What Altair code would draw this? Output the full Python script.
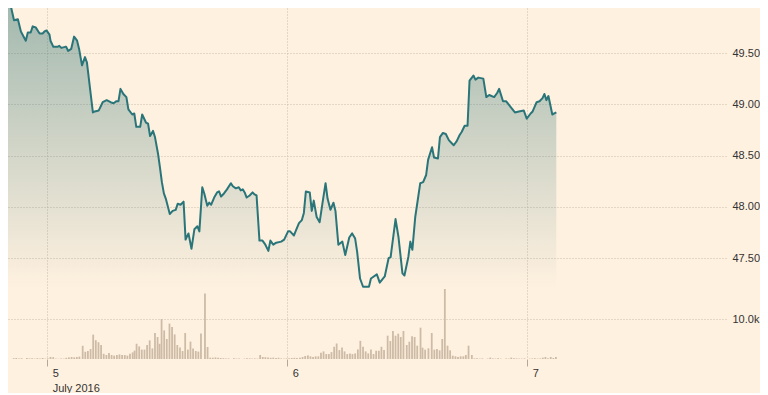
import altair as alt
import pandas as pd

# ---- data (hours relative to 5 July 2016 00:00) ----
price_hours = [
    -4.04, -3.62, -3.32, -2.93, -2.63, -2.14, -1.94, -1.65, -1.45, -1.15,
    -0.76, -0.46, -0.27, -0.07, 0.23, 0.33, 0.62, 1.02, 1.21, 1.41,
    1.80, 1.90, 2.10, 2.40, 2.69, 2.99, 3.19, 3.48, 3.78, 3.97,
    4.57, 4.76, 5.16, 5.55, 5.95, 6.34, 6.64, 6.93, 7.13, 7.33,
    7.62, 7.92, 8.12, 8.51, 8.71, 8.91, 9.30, 9.50, 9.89, 10.09,
    10.29, 10.58, 10.78, 11.08, 11.27, 11.47, 11.67, 11.86, 12.26, 12.55,
    12.85, 13.05, 13.34, 13.64, 13.84, 14.13, 14.43, 14.72, 15.02, 15.22,
    15.51, 15.71, 16.01, 16.20, 16.40, 16.70, 16.99, 17.19, 17.39, 17.68,
    17.98, 18.37, 18.57, 18.87, 19.16, 19.36, 19.56, 19.75, 19.95, 20.25,
    20.54, 20.74, 20.94, 21.23, 21.53, 21.82, 22.12, 22.32, 22.61, 22.91,
    23.40, 23.70, 24.09, 24.29, 24.68, 24.88, 25.18, 25.47, 25.67, 25.87,
    26.26, 26.46, 26.66, 26.95, 27.25, 27.54, 27.84, 28.04, 28.33, 28.63,
    28.83, 29.12, 29.52, 29.81, 30.21, 30.50, 30.80, 31.00, 31.29, 31.59,
    32.18, 32.38, 32.97, 33.26, 33.76, 34.15, 34.35, 34.84, 35.14, 35.53,
    35.73, 36.12, 36.32, 36.52, 36.81, 37.31, 37.60, 37.90, 38.10, 38.49,
    38.69, 39.08, 39.28, 39.58, 39.87, 40.17, 40.46, 40.66, 40.96, 41.25,
    41.45, 41.75, 42.04, 42.24, 42.63, 42.83, 43.12, 43.62, 43.92, 44.21,
    44.70, 45.00, 45.20, 45.59, 45.89, 46.38, 46.78, 47.17, 47.66, 47.96,
    48.35, 48.55, 48.95, 49.24, 49.54, 49.73, 49.93, 50.13, 50.52, 50.72,
    50.92,
]
price_values = [
    49.98, 49.95, 49.82, 49.83, 49.71, 49.62, 49.70, 49.70, 49.76, 49.75,
    49.69, 49.69, 49.71, 49.72, 49.68, 49.62, 49.56, 49.56, 49.57, 49.55,
    49.56, 49.56, 49.52, 49.54, 49.66, 49.62, 49.54, 49.38, 49.46, 49.41,
    48.92, 48.93, 48.94, 49.02, 49.04, 49.02, 49.01, 49.03, 49.03, 49.15,
    49.10, 49.07, 48.95, 48.90, 48.91, 48.78, 48.78, 48.90, 48.82, 48.81,
    48.69, 48.74, 48.68, 48.52, 48.39, 48.24, 48.13, 48.08, 47.93, 47.96,
    47.97, 48.03, 48.02, 48.05, 47.68, 47.74, 47.59, 47.78, 47.81, 47.76,
    48.19, 48.13, 48.01, 48.04, 48.02, 48.09, 48.14, 48.15, 48.10, 48.13,
    48.17, 48.23, 48.20, 48.18, 48.19, 48.16, 48.17, 48.14, 48.09, 48.11,
    48.14, 48.12, 48.11, 47.67, 47.67, 47.63, 47.57, 47.67, 47.63, 47.65,
    47.66, 47.68, 47.76, 47.76, 47.72, 47.77, 47.84, 47.87, 47.94, 48.15,
    48.14, 47.96, 48.06, 47.90, 47.85, 48.04, 48.23, 48.08, 47.97, 48.04,
    47.96, 47.63, 47.66, 47.53, 47.70, 47.74, 47.69, 47.56, 47.30, 47.22,
    47.22, 47.30, 47.34, 47.26, 47.32, 47.50, 47.51, 47.88, 47.70, 47.35,
    47.33, 47.51, 47.66, 47.58, 47.90, 48.23, 48.24, 48.31, 48.46, 48.58,
    48.48, 48.47, 48.68, 48.72, 48.71, 48.65, 48.62, 48.60, 48.64, 48.70,
    48.73, 48.79, 48.79, 49.23, 49.28, 49.24, 49.26, 49.25, 49.07, 49.09,
    49.07, 49.11, 49.15, 49.03, 49.03, 48.97, 48.92, 48.93, 48.94, 48.86,
    48.91, 48.93, 49.02, 49.03, 49.06, 49.10, 49.04, 49.08, 48.90, 48.91,
    48.92,
]

volume_hours = [
    -3.35, -3.09, -2.82, -2.56, -2.30, -2.03, -1.77, -1.51, -1.25, -0.98,
    -0.72, -0.46, -0.19, 0.07, 0.33, 0.60, 0.86, 1.12, 1.38, 1.65,
    1.91, 2.17, 2.44, 2.70, 2.96, 3.22,
    3.55, 3.81, 4.07, 4.34, 4.60, 4.86, 5.13, 5.39, 5.65, 5.92,
    6.18, 6.44, 6.70, 6.97, 7.23, 7.49, 7.76, 8.02, 8.28, 8.55,
    8.74, 8.94, 9.20, 9.46, 9.73, 9.99, 10.25, 10.52, 10.78, 11.04,
    11.24, 11.44, 11.70, 11.96, 12.23, 12.49, 12.75, 13.01, 13.28, 13.54,
    13.80, 14.07, 14.33, 14.59, 14.86, 15.12, 15.38, 15.78, 16.04,
    16.30, 16.56, 16.83, 17.09, 17.35, 17.62, 17.88, 18.14, 18.40, 18.67,
    18.93, 19.19, 19.46, 19.72, 19.98, 20.25, 20.51, 20.77, 21.03, 21.30,
    21.56, 21.82, 22.09, 22.35, 22.61, 22.88, 23.14, 23.40, 23.67, 23.93,
    24.19, 24.46, 24.72, 24.98,
    25.28, 25.54, 25.80, 26.07, 26.33, 26.59, 26.85, 27.12, 27.38, 27.64,
    27.91, 28.17, 28.43, 28.70, 28.95, 29.22, 29.49, 29.74, 30.01, 30.28,
    30.53, 30.80, 31.07, 31.32, 31.59, 31.85, 32.11, 32.38, 32.64, 32.90,
    33.17, 33.43, 33.69, 34.05, 34.32, 34.58, 34.84, 35.11, 35.36, 35.63,
    35.96, 36.22, 36.49, 36.75, 37.01, 37.34, 37.54, 37.80, 38.13, 38.46,
    38.72, 38.98, 39.25, 39.51, 39.77, 40.04, 40.30, 40.56, 40.83, 41.09,
    41.35, 41.62, 41.87, 42.14, 42.47,
    42.73, 42.99, 43.26, 43.52, 43.78, 44.05, 44.31, 44.57, 44.83, 45.10,
    45.36, 45.62, 45.89, 46.15, 46.41, 46.68, 46.94, 47.20, 47.46, 47.73,
    47.99, 48.25, 48.52, 48.78, 49.04, 49.31, 49.57, 49.83, 50.09, 50.36,
    50.62, 50.88,
]
volume_values = [
    200, 250, 150, 200, 0, 250, 150, 200, 100, 200,
    150, 250, 100, 150, 500, 450, 100, 50, 150, 100,
    300, 400, 500, 400, 500, 600,
    3300, 1800, 2000, 2500, 6100, 4700, 4200, 3500, 1300, 1000,
    1500, 1000, 850, 1000, 1150, 1000, 1000, 850, 1300, 1650,
    2100, 3800, 3150, 2350, 2350, 3500, 4650, 2650, 6500, 5500,
    3800, 10000, 7150, 5000, 8850, 8000, 6150, 3500, 2850, 2000,
    6500, 2350, 4350, 2650, 2000, 1850, 6350, 16350, 3000,
    330, 330, 400, 330, 250, 200, 100, 150, 0, 200,
    100, 150, 0, 100, 200, 150, 100, 150, 100, 1000,
    500, 450, 400, 300, 350, 250, 300, 150, 100, 150,
    200, 250, 300, 250,
    330, 500, 750, 900, 660, 500, 660, 660, 1570, 1900,
    1240, 1240, 1730, 3060, 3880, 2230, 2890, 1900, 1240, 1400,
    1240, 1400, 2400, 4540, 3060, 1900, 1400, 2400, 1240, 2070,
    2070, 3060, 2230, 5830, 4500, 7000, 5830, 6330, 5500, 7000,
    3500, 4330, 5670, 5500, 3330, 7830, 2830, 2330, 2670, 6500,
    2330, 2500, 2170, 5000, 17500, 3330, 2170, 830, 670, 500,
    670, 670, 1000, 3330, 1000,
    150, 200, 100, 150, 0, 100, 350, 150, 100, 200,
    100, 0, 150, 100, 350, 200, 150, 100, 100, 150,
    0, 100, 150, 200, 100, 150, 330, 500, 200, 500,
    250, 500,
]

day_ticks = [0, 24, 48]
price_ticks = [47.5, 48.0, 48.5, 49.0, 49.5]
volume_ticks = [10000]

# ---- styling ----
BG = "#fff1e0"
LINE = "#2a7579"
BAR = "#cdbba6"
GRID = "#c9bdac"
TEXT = "#333333"
FONT = "Liberation Sans"

price_df = pd.DataFrame({"h": price_hours, "p": price_values})
vol_df = pd.DataFrame({"h": volume_hours, "v": volume_values})

x_scale = alt.Scale(domain=[-3.42, 67.39], nice=False, zero=False)
x_axis = alt.Axis(
    values=day_ticks,
    labelExpr="datum.value == 0 ? ['5', 'July 2016'] : datum.value == 24 ? '6' : '7'",
    grid=True, gridDash=[1, 2], gridColor=GRID, gridWidth=1,
    domain=False, ticks=True, tickSize=7, tickColor="#b3a898",
    labelAlign="left", labelBaseline="top", labelOffset=5, labelPadding=1,
    labelLineHeight=15, labelFontSize=11, labelColor=TEXT, labelFont=FONT,
    title=None,
)

price_scale = alt.Scale(domain=[46.515, 49.939], nice=False, zero=False)
price_axis = alt.Axis(
    orient="right", values=price_ticks, format=".2f",
    grid=True, gridDash=[1, 2], gridColor=GRID, gridWidth=1,
    domain=False, ticks=False, labelPadding=6,
    labelFontSize=11, labelColor=TEXT, labelFont=FONT, title=None,
)
vol_scale = alt.Scale(domain=[0, 87750], nice=False, zero=True)
vol_axis = alt.Axis(
    orient="right", values=volume_ticks,
    labelExpr="format(datum.value / 1000, '.1f') + 'k'",
    grid=True, gridDash=[1, 2], gridColor=GRID, gridWidth=1,
    domain=False, ticks=False, labelPadding=6,
    labelFontSize=11, labelColor=TEXT, labelFont=FONT, title=None,
)

x_enc = alt.X("h:Q", scale=x_scale, axis=x_axis)

area = alt.Chart(price_df).mark_area(
    clip=True,
    color=alt.Gradient(
        gradient="linear",
        stops=[
            alt.GradientStop(color="rgba(40,110,110,0.43)", offset=0),
            alt.GradientStop(color="rgba(40,110,110,0)", offset=1),
        ],
        x1=1, x2=1, y1=0, y2=1,
    ),
).encode(
    x=x_enc,
    y=alt.Y("p:Q", scale=price_scale, axis=price_axis),
    y2=alt.datum(47.2),
)

line = alt.Chart(price_df).mark_line(
    clip=True, color=LINE, strokeWidth=2, strokeJoin="round"
).encode(
    x=x_enc,
    y=alt.Y("p:Q", scale=price_scale, axis=price_axis),
)

bars = alt.Chart(vol_df).mark_bar(clip=True, color=BAR, size=1.8).encode(
    x=x_enc,
    y=alt.Y("v:Q", scale=vol_scale, axis=vol_axis),
)

price_layer = alt.layer(area, line)

chart = (
    alt.layer(price_layer, bars)
    .resolve_scale(y="independent")
    .properties(width=718, height=351, background=BG, padding=0)
    .configure_view(stroke=None)
)

chart.save("out.html", embed_options={"renderer": "svg", "actions": False})
